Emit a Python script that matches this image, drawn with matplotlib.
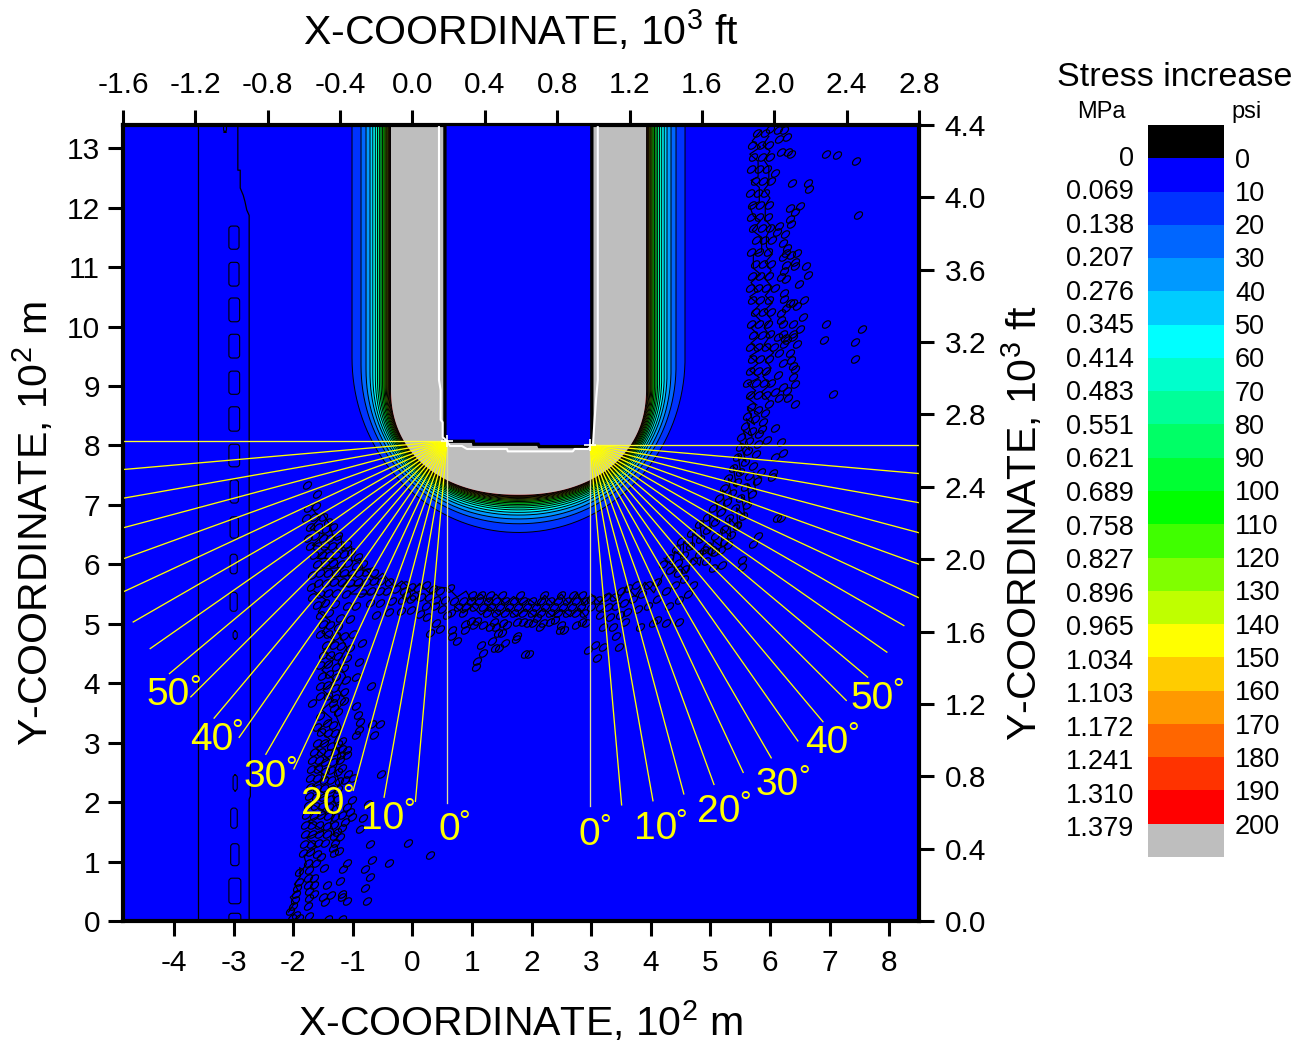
import matplotlib
matplotlib.use('Agg')
import matplotlib.pyplot as plt
from matplotlib.colors import ListedColormap
from matplotlib.patches import FancyBboxPatch
from matplotlib.path import Path
from matplotlib.transforms import Affine2D
import numpy as np

# contour levels (psi) and how far each one lies outside the 200 psi edge, 10^2 m
psi_levels = [10, 20, 30, 40, 50, 60, 70, 80, 90, 100, 110, 120, 130, 140, 150, 160, 170, 180, 190, 200]
level_offset = [.654, .503, .419, .352, .305, .263, .227, .195, .168, .141,
                .117, .097, .079, .064, .050, .039, .027, .017, .008, 0]
band_colors = ['#000000', '#0000FF', '#0033FF', '#0066FF', '#0099FF', '#00CCFF', '#00FFFF', '#00FFCC',
               '#00FF99', '#00FF66', '#00FF33', '#00FF00', '#40FF00', '#80FF00', '#BFFF00', '#FFFF00',
               '#FFCC00', '#FF9900', '#FF6600', '#FF3300', '#FF0000', '#BEBEBE']
mpa_labels = ['0', '0.069', '0.138', '0.207', '0.276', '0.345', '0.414', '0.483', '0.551', '0.621', '0.689',
              '0.758', '0.827', '0.896', '0.965', '1.034', '1.103', '1.172', '1.241', '1.310', '1.379']
psi_labels = [str(v) for v in [0] + psi_levels]

# hydraulic fracture trace
crack_x = [.545, .545, 1.02, 1.03, 2.11, 2.13, 3.01, 3.01]
crack_y = [13.6, 8.07, 8.07, 8.02, 8.02, 7.98, 7.98, 13.6]
white_x = [.445, .445, .473, .473, .507, .507, .562, .629, .83, .914, 1.586, 1.60, 2.69, 2.72, 2.945, 3.03, 3.045, 3.08, 3.11, 3.11]
white_y = [13.6, 9.10, 8.93, 8.43, 8.39, 8.14, 8.09, 7.99, 7.99, 7.94, 7.94, 7.90, 7.90, 7.94, 7.94, 8.01, 8.26, 8.76, 9.10, 13.6]
tip_x = [.58, 2.98]
tip_y = [8.07, 8.01]
spoke_angles = list(range(0, 95, 5))
spoke_length = 6.08

# angle labels: text, right edge of the digits, centre height
label_left = [('50', -3.73, 3.80), ('40', -3.01, 3.05), ('30', -2.11, 2.43), ('20', -1.15, 1.97), ('10', -.13, 1.72), ('0', .80, 1.53)]
label_right = [('0', 3.15, 1.45), ('10', 4.44, 1.55), ('20', 5.51, 1.84), ('30', 6.49, 2.29), ('40', 7.32, 3.00), ('50', 8.08, 3.74)]

# far-left contour lines and closed loops
line_a_x = [-3.60, -3.60]
line_a_y = [0, 13.4]
line_b_x = [-2.93, -2.93, -2.89, -2.89, -2.84, -2.81, -2.78, -2.74, -2.74, -2.72, -2.72, -2.74, -2.74]
line_b_y = [13.4, 12.63, 12.63, 12.33, 12.21, 12.10, 11.96, 11.87, 5.30, 5.25, 2.10, 2.05, 0]
strip_left = [-3.08, -3.08, -3.08, -3.08, -3.08, -3.08, -3.08, -3.06, -3.06, -3.06, -3.06, -3.01, -3.01, -3.05, -3.05, -3.08, -3.08, -3.17]
strip_right = [-2.91, -2.91, -2.90, -2.90, -2.90, -2.90, -2.90, -2.92, -2.92, -2.94, -2.94, -2.94, -2.94, -2.94, -2.91, -2.88, -2.88, -3.12]
strip_low = [11.30, 10.68, 10.08, 9.47, 8.86, 8.24, 7.64, 7.03, 6.44, 5.84, 5.21, 4.74, 2.19, 1.56, .93, .29, -.07, 13.27]
strip_high = [11.69, 11.08, 10.48, 9.87, 9.25, 8.65, 8.02, 7.42, 6.80, 6.17, 5.53, 4.88, 2.46, 1.90, 1.30, .72, .13, 13.45]

# small closed stress loops
cloud_left = [
    (-1.77, 7.33), (-1.60, 7.18), (-1.75, 6.95), (-1.62, 6.98), (-1.78, 6.78), (-1.65, 6.80), (-1.50, 6.80), (-1.42, 6.72),
    (-1.72, 6.62), (-1.58, 6.63), (-1.45, 6.60), (-1.33, 6.62), (-1.76, 6.45), (-1.63, 6.47), (-1.50, 6.45), (-1.38, 6.45),
    (-1.25, 6.48), (-1.72, 6.30), (-1.60, 6.30), (-1.47, 6.30), (-1.35, 6.30), (-1.22, 6.32), (-1.10, 6.35), (-1.65, 6.15),
    (-1.52, 6.15), (-1.40, 6.15), (-1.28, 6.15), (-1.15, 6.17), (-1.03, 6.20), (-.92, 6.12), (-1.60, 6.00), (-1.47, 6.00),
    (-1.33, 6.02), (-1.20, 6.00), (-1.08, 6.02), (-.95, 5.98), (-.83, 6.00), (-1.68, 5.82), (-1.55, 5.85), (-1.42, 5.85),
    (-1.28, 5.86), (-1.15, 5.85), (-1.02, 5.85), (-.90, 5.85), (-.78, 5.87), (-.65, 5.85), (-1.70, 5.62), (-1.58, 5.68),
    (-1.45, 5.68), (-1.32, 5.70), (-1.18, 5.70), (-1.05, 5.68), (-.92, 5.70), (-.78, 5.70), (-.65, 5.72), (-.52, 5.72),
    (-.40, 5.70), (-1.68, 5.45), (-1.55, 5.50), (-1.42, 5.52), (-1.28, 5.52), (-1.12, 5.50), (-.85, 5.52), (-.70, 5.55),
    (-.55, 5.55), (-.42, 5.55), (-.28, 5.58), (-.15, 5.55), (-1.60, 5.32), (-1.47, 5.35), (-1.30, 5.33), (-1.10, 5.30),
    (-.95, 5.30), (-.72, 5.35), (-.55, 5.35), (-.35, 5.38), (-.18, 5.40), (-.02, 5.42), (-1.55, 5.15), (-1.40, 5.18),
    (-1.22, 5.10), (-1.05, 5.08), (-.62, 5.15), (-.40, 5.20), (-.20, 5.22), (-1.50, 5.00), (-1.38, 4.98), (-1.25, 4.95),
    (-1.55, 4.82), (-1.42, 4.82), (-1.28, 4.80), (-1.15, 4.80), (-1.00, 4.82), (-1.45, 4.65), (-1.32, 4.65), (-1.20, 4.62),
    (-1.05, 4.60), (-.85, 4.68), (-1.50, 4.48), (-1.38, 4.48), (-1.25, 4.45), (-1.10, 4.42), (-.90, 4.35), (-1.55, 4.30),
    (-1.42, 4.32), (-1.28, 4.28), (-1.15, 4.25), (-.95, 4.10), (-1.52, 4.12), (-1.40, 4.15), (-1.28, 4.10), (-1.12, 4.05),
    (-1.55, 3.95), (-1.43, 3.97), (-1.30, 3.92), (-1.15, 3.85), (-.95, 3.62), (-1.55, 3.78), (-1.42, 3.78), (-1.30, 3.75),
    (-1.15, 3.70), (-.70, 3.95), (-1.69, 3.67), (-1.33, 3.67), (-1.32, 3.58), (-1.25, 3.52), (-.91, 3.46), (-.88, 3.35),
    (-.68, 3.32), (-.55, 3.31), (-.89, 3.21), (-.95, 3.13), (-.64, 3.13), (-1.19, 3.03), (-1.10, 2.88), (-1.19, 2.90),
    (-1.10, 2.79), (-.52, 2.48), (-1.19, 2.57), (-1.08, 2.47), (-1.13, 2.38), (-1.00, 2.40), (-1.01, 2.03), (-1.10, 1.92),
    (-1.04, 1.84), (-1.02, 1.75), (-1.13, 1.67), (-.83, 1.73), (-.74, 1.96), (-.88, 1.54), (-1.19, 1.57), (-1.27, 1.50),
    (-1.22, 1.42), (-1.32, 1.43), (-1.30, 1.32), (-1.34, 1.22), (-1.23, 1.17), (-1.32, 1.14), (-.71, 1.29), (-.07, 1.32),
    (.29, 1.11), (-.68, 1.02), (-.40, .98), (-1.09, .98), (-1.53, 1.08), (-1.49, .89), (-1.16, .87), (-.80, .87),
    (-.71, .74), (-1.22, .68), (-1.43, .60), (-.80, .56), (-1.19, .46), (-1.37, .44), (-1.50, .41), (-1.19, .40),
    (-1.10, .34), (-1.47, .32), (-.76, .34), (-1.75, .26), (-1.74, .08), (-1.18, .04), (-1.41, .03),
    (-1.55, 3.45), (-1.44, 3.33), (-1.61, 3.27), (-1.33, 3.30), (-1.53, 3.18), (-1.41, 3.16), (-1.30, 3.16), (-1.60, 2.99),
    (-1.48, 3.00), (-1.36, 2.95), (-1.25, 2.98), (-1.65, 2.84), (-1.54, 2.85), (-1.42, 2.82), (-1.30, 2.84), (-1.20, 2.80),
    (-1.68, 2.70), (-1.57, 2.70), (-1.46, 2.68), (-1.34, 2.68), (-1.22, 2.70), (-1.70, 2.55), (-1.58, 2.56), (-1.47, 2.53),
    (-1.36, 2.54), (-1.25, 2.50), (-1.72, 2.40), (-1.60, 2.40), (-1.48, 2.38), (-1.36, 2.38), (-1.24, 2.36), (-1.72, 2.25),
    (-1.60, 2.24), (-1.48, 2.24), (-1.37, 2.22), (-1.25, 2.22), (-1.74, 2.10), (-1.62, 2.08), (-1.50, 2.08), (-1.38, 2.06),
    (-1.27, 2.05), (-1.76, 1.95), (-1.64, 1.93), (-1.52, 1.93), (-1.40, 1.92), (-1.28, 1.90), (-1.78, 1.78), (-1.66, 1.77),
    (-1.54, 1.78), (-1.42, 1.76), (-1.30, 1.75), (-1.18, 1.78), (-1.80, 1.62), (-1.68, 1.62), (-1.56, 1.62), (-1.44, 1.60),
    (-1.32, 1.62), (-1.80, 1.46), (-1.68, 1.47), (-1.56, 1.46), (-1.44, 1.47), (-1.82, 1.30), (-1.70, 1.30), (-1.58, 1.32),
    (-1.46, 1.31), (-1.84, 1.15), (-1.72, 1.16), (-1.60, 1.13), (-1.75, .98), (-1.62, .98), (-1.90, .82), (-1.74, .85),
    (-1.76, .72), (-1.66, .72), (-1.76, .60), (-1.66, .60), (-1.74, .50), (-1.66, .46), (-1.74, .38),
    (-2.05, .17), (-2.00, .25), (-1.97, .35), (-1.95, .45), (-1.93, .55), (-1.90, .65), (-1.95, .10), (-1.90, .05), (-2.02, .05),
]
cloud_mid = [
    (-.03, 5.23), (.13, 5.16), (.25, 5.11), (.30, 4.84), (.39, 5.02), (.47, 4.92), (.66, 4.89), (.67, 4.80), (.75, 4.71),
    (.88, 4.89), (.89, 4.99), (.98, 5.05), (1.03, 4.98), (1.09, 5.05), (1.19, 4.98), (1.30, 4.95), (1.37, 5.03), (1.41, 4.94),
    (1.50, 4.85), (1.44, 4.84), (1.34, 4.71), (1.15, 4.65), (1.19, 4.50), (1.09, 4.37), (1.06, 4.28), (1.39, 4.59), (1.46, 4.59),
    (1.55, 4.68), (1.73, 4.74), (1.76, 4.80), (1.89, 4.49), (1.95, 4.49), (1.52, 5.01), (1.59, 4.98), (1.75, 5.03), (1.85, 5.03),
    (1.94, 5.01), (2.03, 5.02), (2.09, 5.09), (2.14, 4.95), (2.19, 5.02), (2.31, 5.03), (2.39, 5.06), (2.49, 4.98), (2.47, 4.89),
    (2.54, 4.89), (2.75, 4.98), (2.84, 5.03), (2.91, 5.02), (2.94, 4.56), (3.07, 4.64), (3.19, 4.61), (3.10, 4.43), (3.20, 4.95),
    (3.37, 4.95), (3.41, 4.80), (3.46, 4.61), (3.56, 5.03), (3.81, 4.95), (4.03, 5.02), (4.11, 5.07), (4.26, 5.02), (4.47, 5.03),
    (-.15, 5.65), (-.02, 5.62), (.10, 5.60), (.22, 5.65), (.34, 5.58), (.46, 5.55), (-.10, 5.48), (.03, 5.47), (.15, 5.45),
    (.28, 5.45), (.40, 5.40), (.55, 5.40), (.22, 5.30), (.38, 5.30), (.50, 5.25), (.58, 5.15), (.63, 5.60),
    (3.00, 5.42), (3.12, 5.40), (3.25, 5.45), (3.38, 5.45), (3.50, 5.55), (3.62, 5.60), (3.75, 5.65), (3.00, 5.28), (3.14, 5.28),
    (3.28, 5.28), (3.42, 5.30), (3.55, 5.35), (3.70, 5.42), (3.85, 5.50), (3.95, 5.65), (4.10, 5.70), (3.15, 5.15), (3.32, 5.12),
    (3.48, 5.15), (3.60, 5.20), (3.78, 5.25), (3.95, 5.30), (4.10, 5.42), (4.25, 5.55), (4.40, 5.65), (4.55, 5.75), (4.30, 5.30),
    (4.48, 5.40), (4.62, 5.50), (4.70, 5.65),
]
cloud_mid_rows = [
    (5.48, [1.00, 1.15, 1.30, 1.50, 1.80, 2.20, 2.50, 2.70, 2.85]),
    (5.38, [.70, .84, .98, 1.12, 1.26, 1.40, 1.55, 1.70, 1.85, 2.00, 2.15, 2.30, 2.45, 2.60, 2.75, 2.90]),
    (5.28, [.76, .90, 1.04, 1.18, 1.32, 1.47, 1.62, 1.77, 1.92, 2.07, 2.22, 2.37, 2.52, 2.67, 2.82]),
    (5.18, [.65, .85, 1.25, 1.40, 1.55, 1.70, 1.85, 2.00, 2.15, 2.30, 2.45, 2.60, 2.75, 2.88]),
]
cloud_rise = [
    (4.20, 6.00), (4.32, 5.90), (4.45, 5.85), (4.30, 6.10), (4.45, 6.02), (4.58, 5.92), (4.42, 6.25), (4.55, 6.15), (4.70, 6.05),
    (4.50, 6.40), (4.65, 6.30), (4.80, 6.18), (4.92, 6.05), (4.68, 6.52), (4.82, 6.42), (4.95, 6.30), (5.08, 6.20), (4.80, 6.68),
    (4.94, 6.58), (5.08, 6.48), (5.22, 6.38), (4.95, 6.80), (5.08, 6.72), (5.22, 6.60), (5.35, 6.50), (5.05, 6.95), (5.18, 6.88),
    (5.32, 6.78), (5.45, 6.65), (5.15, 7.12), (5.28, 7.05), (5.42, 6.95), (5.55, 6.82), (5.22, 7.28), (5.36, 7.20), (5.50, 7.12),
    (5.62, 7.00), (5.30, 7.45), (5.44, 7.38), (5.58, 7.30), (5.70, 7.18), (5.38, 7.62), (5.50, 7.55), (5.64, 7.48), (5.78, 7.40),
    (5.45, 7.80), (5.58, 7.72), (5.72, 7.65), (5.85, 7.55), (5.50, 7.98), (5.63, 7.90), (5.77, 7.85), (5.52, 8.15), (5.65, 8.08),
    (5.80, 8.02), (5.58, 8.32), (5.70, 8.25), (5.82, 8.20), (5.62, 8.50), (5.75, 8.45), (5.88, 8.40), (5.68, 8.65), (5.80, 8.60),
    (5.92, 8.55), (5.98, 8.70), (6.08, 8.29), (5.86, 8.27), (5.95, 8.09), (6.18, 8.06), (6.08, 7.81), (6.21, 7.88), (6.05, 7.54),
    (6.03, 7.47), (6.11, 6.78), (6.18, 6.78), (5.80, 6.47), (5.72, 6.35), (5.45, 6.66), (5.53, 6.07), (5.53, 5.95), (5.19, 5.99),
    (5.05, 5.93), (5.30, 6.32), (5.18, 6.24), (5.02, 6.24), (4.90, 6.24),
]
cloud_upper = [
    (6.14, 13.31), (6.24, 13.31), (6.00, 13.33), (6.29, 13.18), (6.15, 13.15), (6.18, 12.94), (6.31, 12.94), (6.36, 12.90), (6.94, 12.91),
    (7.12, 12.88), (7.45, 12.79), (6.37, 12.42), (6.63, 12.42), (6.66, 12.32), (6.08, 12.58), (6.51, 12.03), (6.42, 11.93), (6.33, 11.99),
    (7.48, 11.87), (6.33, 11.81), (6.36, 11.72), (6.15, 11.69), (6.12, 11.59), (6.25, 11.55), (6.21, 11.41), (6.29, 11.32), (6.46, 11.23),
    (6.36, 11.20), (6.21, 11.17), (6.27, 11.23), (6.42, 11.08), (6.42, 11.02), (6.27, 11.03), (6.60, 11.02), (6.24, 10.93), (6.63, 10.86),
    (6.19, 10.84), (6.27, 10.80), (6.48, 10.71), (6.24, 10.56), (6.23, 10.47), (6.57, 10.44), (6.33, 10.40), (6.39, 10.39), (6.46, 10.34),
    (6.27, 10.31), (6.18, 10.22), (6.55, 10.16), (6.19, 10.11), (6.21, 10.04), (6.39, 10.04), (6.94, 10.04), (6.51, 9.95), (7.55, 9.95),
    (6.21, 9.88), (6.39, 9.88), (6.39, 9.83), (6.00, 9.87), (6.14, 9.83), (6.25, 9.80), (6.29, 9.77), (6.91, 9.77), (7.42, 9.74),
    (6.24, 9.71), (6.46, 9.70), (6.15, 9.55), (6.33, 9.55), (7.42, 9.46), (6.21, 9.39), (6.36, 9.43), (6.39, 9.34), (6.42, 9.29),
    (6.39, 9.15), (6.14, 9.19), (6.42, 9.03), (7.06, 8.86), (6.22, 8.98), (6.29, 8.92), (6.31, 8.79), (6.15, 8.79), (6.42, 8.70), (6.08, 8.90),
]
cloud_upper_rows = [
    (13.25, [5.78, 5.92]), (13.05, [5.70, 5.85, 5.98]), (12.85, [5.72, 5.86, 6.00]), (12.65, [5.68, 5.82, 5.95]),
    (12.45, [5.74, 5.88, 6.02]), (12.25, [5.66, 5.80, 5.92]), (12.05, [5.70, 5.84, 5.98]), (11.85, [5.68, 5.82, 5.96]),
    (11.65, [5.72, 5.86, 6.00]), (11.45, [5.76, 5.90, 6.04]), (11.25, [5.68, 5.82, 5.96]), (11.05, [5.74, 5.88, 6.02]),
    (10.85, [5.70, 5.84, 5.98]), (10.65, [5.66, 5.80, 5.94, 6.08]), (10.45, [5.70, 5.84, 5.98]), (10.25, [5.74, 5.88, 6.02]),
    (10.05, [5.68, 5.82, 5.96]), (9.85, [5.72, 5.86]), (9.65, [5.66, 5.80, 5.94, 6.06]), (9.45, [5.70, 5.84, 5.98]),
    (9.25, [5.66, 5.80, 5.94]), (9.05, [5.62, 5.76, 5.90, 6.02]), (8.85, [5.66, 5.80, 5.94]),
]

# jagged open contour pieces through the dense parts of the loops
strands = [
    [(5.85, 13.30), (5.70, 13.12), (5.84, 13.02), (5.66, 12.90), (5.80, 12.78), (5.80, 12.52), (5.68, 12.46), (5.82, 12.34), (5.82, 12.10),
     (5.66, 12.02), (5.72, 11.86), (5.84, 11.78), (5.70, 11.62), (5.86, 11.50), (5.86, 11.26), (5.72, 11.20), (5.72, 10.98), (5.84, 10.88),
     (5.68, 10.74), (5.80, 10.60), (5.66, 10.50), (5.82, 10.36), (5.70, 10.24), (5.84, 10.10), (5.68, 9.98), (5.82, 9.84), (5.68, 9.72),
     (5.82, 9.60), (5.66, 9.50), (5.80, 9.38), (5.66, 9.26), (5.82, 9.14), (5.62, 9.04), (5.76, 8.92), (5.62, 8.80), (5.78, 8.68)],
    [(5.98, 13.20), (5.88, 13.05), (6.00, 12.95), (5.90, 12.80), (5.98, 12.68), (5.98, 12.40), (5.90, 12.30), (6.00, 12.16), (5.92, 12.04),
     (5.92, 11.80), (6.02, 11.68), (5.94, 11.52), (5.94, 11.34), (6.04, 11.22), (5.92, 11.08), (6.02, 10.94), (5.90, 10.82), (6.04, 10.66),
     (5.92, 10.52), (6.04, 10.40), (5.90, 10.26), (6.02, 10.12), (5.90, 9.98), (6.00, 9.84), (5.90, 9.70), (6.06, 9.56), (5.92, 9.44),
     (6.02, 9.30), (5.88, 9.16), (6.00, 9.02), (5.86, 8.90), (5.98, 8.76)],
    [(4.22, 6.10), (4.36, 5.98), (4.40, 6.22), (4.54, 6.12), (4.55, 6.38), (4.70, 6.25), (4.70, 6.52), (4.86, 6.40), (4.82, 6.70), (5.00, 6.55),
     (4.98, 6.85), (5.12, 6.72), (5.10, 7.05), (5.26, 6.90), (5.20, 7.25), (5.36, 7.10), (5.30, 7.45), (5.44, 7.30), (5.38, 7.65), (5.52, 7.50),
     (5.46, 7.85), (5.60, 7.72), (5.50, 8.05), (5.66, 7.92), (5.55, 8.25), (5.70, 8.15), (5.60, 8.45), (5.74, 8.35), (5.62, 8.65), (5.80, 8.55)],
    [(4.35, 5.85), (4.50, 5.98), (4.60, 5.85), (4.70, 6.10), (4.82, 5.98), (4.88, 6.24), (5.02, 6.14), (5.05, 6.40), (5.18, 6.30), (5.20, 6.60),
     (5.34, 6.46), (5.32, 6.78), (5.46, 6.62), (5.44, 6.95), (5.58, 6.80), (5.52, 7.15), (5.66, 7.00), (5.62, 7.35), (5.76, 7.22), (5.72, 7.55), (5.86, 7.45)],
    [(.60, 5.60), (.75, 5.45), (.90, 5.55), (1.00, 5.38), (1.15, 5.50), (1.28, 5.36), (1.40, 5.50), (1.55, 5.34), (1.70, 5.46), (1.82, 5.32),
     (1.95, 5.42), (2.10, 5.30), (2.22, 5.48), (2.35, 5.34), (2.50, 5.50), (2.62, 5.34), (2.76, 5.52), (2.88, 5.34), (3.00, 5.50), (3.14, 5.36),
     (3.30, 5.52), (3.45, 5.38), (3.60, 5.62), (3.74, 5.46), (3.90, 5.70), (4.05, 5.52), (4.20, 5.82)],
    [(.70, 5.30), (.85, 5.18), (1.00, 5.30), (1.15, 5.15), (1.30, 5.28), (1.45, 5.14), (1.60, 5.26), (1.75, 5.12), (1.90, 5.25), (2.05, 5.12),
     (2.20, 5.26), (2.35, 5.12), (2.50, 5.24), (2.65, 5.12), (2.80, 5.26), (2.92, 5.10)],
    [(-.80, 5.92), (-.62, 5.75), (-.50, 5.85), (-.30, 5.62), (-.18, 5.72), (0, 5.55), (.12, 5.68), (.30, 5.50), (.42, 5.62), (.60, 5.60)],
    [(-1.70, 6.95), (-1.55, 6.78), (-1.72, 6.60), (-1.48, 6.50), (-1.68, 6.32), (-1.40, 6.28), (-1.60, 6.10), (-1.28, 6.10), (-1.50, 5.92),
     (-1.15, 5.95), (-1.35, 5.78), (-1.00, 5.82), (-1.20, 5.62), (-.85, 5.65), (-1.05, 5.50), (-.70, 5.50)],
    [(-1.50, 6.85), (-1.38, 6.65), (-1.32, 6.42), (-1.20, 6.48), (-1.18, 6.22), (-1.02, 6.30), (-1.02, 6.05), (-.88, 6.10), (-.82, 5.88), (-.65, 5.95)],
    [(-1.65, 5.55), (-1.45, 5.40), (-1.58, 5.20), (-1.38, 5.05), (-1.52, 4.85), (-1.30, 4.72), (-1.50, 4.55), (-1.32, 4.40), (-1.52, 4.22),
     (-1.30, 4.05), (-1.50, 3.88), (-1.32, 3.72), (-1.52, 3.55), (-1.35, 3.40), (-1.58, 3.22), (-1.38, 3.05), (-1.62, 2.90), (-1.40, 2.72),
     (-1.65, 2.58), (-1.42, 2.42), (-1.68, 2.28), (-1.44, 2.12), (-1.70, 1.98), (-1.44, 1.82), (-1.75, 1.68), (-1.48, 1.52), (-1.78, 1.40),
     (-1.60, 1.25), (-1.82, 1.10), (-1.78, .95), (-1.90, .80)],
    [(-1.25, 4.85), (-1.10, 4.60), (-1.25, 4.35), (-1.12, 4.12), (-1.25, 3.90), (-1.12, 3.72), (-1.30, 3.50), (-1.20, 3.25), (-1.32, 3.00),
     (-1.20, 2.78), (-1.30, 2.55), (-1.22, 2.32), (-1.34, 2.10), (-1.25, 1.88), (-1.38, 1.65), (-1.30, 1.45)],
    [(-2.08, .15), (-1.98, .30), (-2.05, .40), (-1.92, .52), (-1.98, .62), (-1.88, .75), (-1.89, .90)],
]

W, H = 1307, 1046


def u_outline(off):
    # straight walls coming down from above the frame, closed by a rounded bottom
    half_width = 2.14 + off
    centre = 8.95 + .8 * off
    depth = 1.78 + 1.77 * off
    p = 2.2 - .3 * off
    t = np.linspace(0, np.pi, 240)
    x = 1.78 + half_width * np.sign(np.cos(t)) * np.abs(np.cos(t)) ** (2 / p)
    y = centre - depth * np.abs(np.sin(t)) ** (2 / p)
    return np.r_[x[0], x, x[-1]], np.r_[14, y, 14]


def main():
    plt.rcParams['font.family'] = ['Liberation Sans', 'DejaVu Sans']
    plt.rcParams['mathtext.default'] = 'regular'
    plt.rcParams['mathtext.fontset'] = 'custom'
    plt.rcParams['mathtext.rm'] = 'Liberation Sans'
    plt.rcParams['axes.unicode_minus'] = False

    fig = plt.figure(figsize=(W / 100, H / 100), dpi=100)
    ax = fig.add_axes([123 / W, 1 - 921 / H, 796 / W, 796 / H])
    ax.set_facecolor(band_colors[1])
    ax.set_xlim(-4.857, 8.5)
    ax.set_ylim(0, 13.39)

    # nested stress bands, outermost first
    for i, (level, off) in enumerate(zip(psi_levels, level_offset)):
        x, y = u_outline(off)
        ax.fill(x, y, color=band_colors[i + 2], lw=0, zorder=2)
        if level < 200:
            ax.plot(x, y, color='black', lw=0.7, zorder=2)

    ax.fill(crack_x, crack_y, color=band_colors[1], lw=0, zorder=3)
    ax.plot(crack_x, crack_y, color='black', lw=2.4, zorder=3, solid_joinstyle='miter')
    ax.plot(white_x, white_y, color='white', lw=1.5, zorder=4)

    # far-left contours
    ax.plot(line_a_x, line_a_y, color='black', lw=0.9, zorder=2)
    ax.plot(line_b_x, line_b_y, color='black', lw=0.9, zorder=2)
    for x0, x1, y0, y1 in zip(strip_left, strip_right, strip_low, strip_high):
        box = FancyBboxPatch((x0, y0), x1 - x0, y1 - y0, boxstyle='round,pad=0,rounding_size=0.05',
                             fill=False, ec='black', lw=0.8, zorder=2)
        ax.add_patch(box)

    # small stress loops
    loop = Path.unit_circle().transformed(Affine2D().scale(1, 0.62).rotate_deg(40))
    pts = cloud_left + cloud_mid + cloud_rise + cloud_upper
    for row_y, row_x in cloud_mid_rows + cloud_upper_rows:
        pts = pts + [(v, row_y) for v in row_x]
    pts = np.array(pts)
    ax.plot(pts[:, 0], pts[:, 1], ls='none', marker=loop, ms=6, mfc='none', mec='black', mew=0.85, zorder=2)
    for strand in strands:
        s = np.array(strand)
        ax.plot(s[:, 0], s[:, 1], color='black', lw=0.85, zorder=2)

    # radial spokes from both fracture tips
    for side, tx, ty in zip([-1, 1], tip_x, tip_y):
        for ang in spoke_angles:
            a = np.radians(ang)
            if ang == 0:
                col = '#DEDE9A'
            elif ang == 90:
                col = '#FFFF30'
            else:
                col = '#FFFF00'
            ax.plot([tx, tx + side * spoke_length * np.sin(a)], [ty, ty - spoke_length * np.cos(a)],
                    color=col, lw=0.95, zorder=5)
    ax.plot(tip_x, tip_y, ls='none', marker='+', ms=9, mew=1.2, color='white', zorder=6)

    for txt, x, y in label_left + label_right:
        ax.text(x, y, txt, color='#FFFF00', fontsize=28, ha='right', va='center', zorder=7)
        ax.annotate('\u00b0', (x, y), xytext=(-1, 6), textcoords='offset points', color='#FFFF00',
                    fontsize=21, ha='left', va='center', zorder=7)

    ax.set_xticks(range(-4, 9))
    ax.set_yticks(range(0, 14))
    ax.tick_params(axis='both', direction='out', length=10.5, width=2.2, labelsize=21.5, pad=6)
    ax.tick_params(axis='x', pad=10)
    for s in ax.spines.values():
        s.set_linewidth(3)
    ax.set_xlabel('X-COORDINATE, 10$^2$ m', fontsize=29.5, labelpad=15)
    ax.set_ylabel('Y-COORDINATE, 10$^2$ m', fontsize=29.5, labelpad=8)

    top = ax.twiny()
    top.set_xlim(-1.6, 2.8)
    top.set_xticks(np.arange(-1.6, 2.81, 0.4))
    top.set_xticklabels(['0.0' if abs(v) < 1e-6 else '%.1f' % v for v in np.arange(-1.6, 2.81, 0.4)])
    top.tick_params(axis='x', direction='out', length=10.5, width=2.2, labelsize=21.5, pad=8)
    top.set_xlabel('X-COORDINATE, 10$^3$ ft', fontsize=29.5, labelpad=19)

    right = ax.twinx()
    right.set_ylim(0, 4.4)
    right.set_yticks(np.arange(0, 4.41, 0.4))
    right.set_yticklabels(['%.1f' % v for v in np.arange(0, 4.41, 0.4)])
    right.tick_params(axis='y', direction='out', length=10.5, width=2.2, labelsize=21.5, pad=8)
    right.set_ylabel('Y-COORDINATE, 10$^3$ ft', fontsize=29.5, labelpad=10)

    # colour bar, black row on top and grey row at the bottom
    cb = fig.add_axes([1148 / W, 1 - 857 / H, 76 / W, 732 / H])
    rows = np.arange(len(band_colors))[:, None]
    cb.pcolormesh([0, 1], np.arange(len(band_colors) + 1), rows, cmap=ListedColormap(band_colors),
                  vmin=-0.5, vmax=len(band_colors) - 0.5)
    cb.set_ylim(len(band_colors), 0)
    cb.axis('off')

    fig.text(1175 / W, 1 - 78 / H, 'Stress increase', fontsize=24.6, ha='center', va='center')
    fig.text(1101 / W, 1 - 112 / H, 'MPa', fontsize=17, ha='center', va='center')
    fig.text(1247 / W, 1 - 112 / H, 'psi', fontsize=17, ha='center', va='center')
    for i, (m, p) in enumerate(zip(mpa_labels, psi_labels)):
        fig.text(1134 / W, 1 - (158.5 + i * 33.55) / H, m, fontsize=19.5, ha='right', va='center')
        fig.text(1235 / W, 1 - (160.5 + i * 33.3) / H, p, fontsize=19.5, ha='left', va='center')

    plt.savefig('out.png', dpi=100)


if __name__ == '__main__':
    main()
